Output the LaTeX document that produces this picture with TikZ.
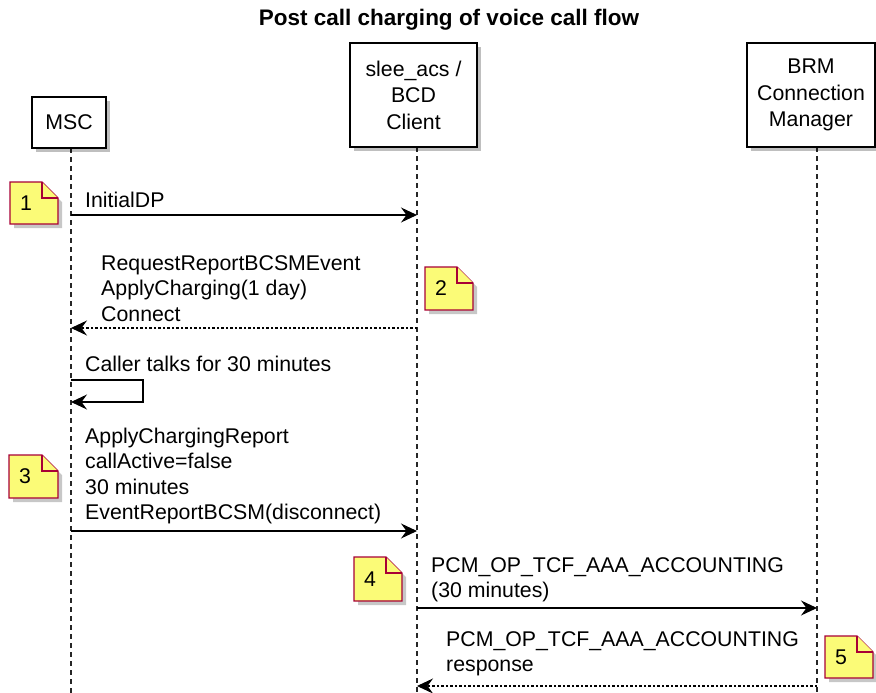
\documentclass[tikz,border=0pt]{standalone}
\usepackage{fontspec}
\setmainfont{Liberation Sans}
\usetikzlibrary{arrows.meta,shadows}
\definecolor{notefill}{HTML}{FBFB77}
\definecolor{noteline}{HTML}{A80036}
\newcommand\mynote[6]{%
  \fill[black,opacity=0.22] ({#2+4},{#3+4}) -- ({#4+4-16},{#3+4}) -- ({#4+4},{#3+4+16}) -- ({#4+4},{#5+4}) -- ({#2+4},{#5+4}) -- cycle;
  \filldraw[notestyle] (#2,#3) -- ({#4-16},#3) -- (#4,{#3+16}) -- (#4,#5) -- (#2,#5) -- cycle;
  \draw[notestyle] ({#4-16},#3) -- ({#4-16},{#3+16}) -- (#4,{#3+16});
  \node[anchor=west] (#1) at ({#2+10},{(#3+#5)/2}) {#6};
}
\begin{document}
\begin{tikzpicture}[x=1pt,y=-1pt,
  every node/.style={font=\fontsize{21.3}{25.5}\selectfont, inner sep=0pt},
  part/.style={draw=black, line width=1.6pt, fill=white, align=center,
    font=\fontsize{21.3}{26.5}\selectfont,
    drop shadow={shadow xshift=4pt, shadow yshift=-4pt, fill=black, opacity=0.25}},
  life/.style={dash pattern=on 5pt off 4pt, line width=1.3pt, black!85},
  msg/.style={line width=1.1pt, -{Stealth[length=16pt,width=15pt,inset=5.5pt]}},
  ret/.style={msg, dash pattern=on 2.5pt off 2pt},
  lbl/.style={anchor=west, align=left},
  notestyle/.style={draw=noteline, fill=notefill, line width=1.3pt, line join=miter},
]
\useasboundingbox (0,0) rectangle (876,693);

\node[font=\bfseries\fontsize{22.5}{27}\selectfont] (title) at (449,20) {Post call charging of voice call flow};

% lifelines
\coordinate (mscTop) at (71,148);  \coordinate (mscBot) at (71,693);
\coordinate (acsTop) at (417,147); \coordinate (acsBot) at (417,693);
\coordinate (brmTop) at (817,147); \coordinate (brmBot) at (817,693);
\draw[life] (mscTop) -- (mscBot);
\draw[life] (acsTop) -- (acsBot);
\draw[life] (brmTop) -- (brmBot);

% participants
\node[part, minimum width=74pt, minimum height=51pt] (msc) at (69,122.5) {MSC};
\node[part, minimum width=127pt, minimum height=104pt] (acs) at (413.5,95) {slee\_acs /\\BCD\\Client};
\node[part, minimum width=128pt, minimum height=104pt] (brm) at (811,95) {BRM\\Connection\\Manager};

% message 1
\coordinate (m1a) at (71,215); \coordinate (m1b) at (417,215);
\draw[msg] (m1a) -- (m1b);
\node[lbl] (l1) at (85,200) {InitialDP};

% message 2
\coordinate (m2a) at (417,328); \coordinate (m2b) at (71,328);
\draw[ret] (m2a) -- (m2b);
\node[lbl] (l2) at (101,288.5) {RequestReportBCSMEvent\\ApplyCharging(1 day)\\Connect};

% self message
\coordinate (s1) at (71,380); \coordinate (s2) at (143,380);
\coordinate (s3) at (143,402); \coordinate (s4) at (71,402);
\draw[msg] (s1) -- (s2) -- (s3) -- (s4);
\node[lbl] (ls) at (85,364) {Caller talks for 30 minutes};

% message 3
\coordinate (m3a) at (71,531); \coordinate (m3b) at (417,531);
\draw[msg] (m3a) -- (m3b);
\node[lbl] (l3) at (85,476) {ApplyChargingReport\\callActive=false\\30 minutes\\EventReportBCSM(disconnect)};

% message 4
\coordinate (m4a) at (417,608); \coordinate (m4b) at (817,608);
\draw[msg] (m4a) -- (m4b);
\node[lbl] (l4) at (431,580) {PCM\_OP\_TCF\_AAA\_ACCOUNTING\\(30 minutes)};

% message 5
\coordinate (m5a) at (817,686); \coordinate (m5b) at (417,686);
\draw[ret] (m5a) -- (m5b);
\node[lbl] (l5) at (446,654) {PCM\_OP\_TCF\_AAA\_ACCOUNTING\\response};

% notes
\mynote{n1}{10}{182}{58}{224}{1}
\mynote{n2}{425}{267}{473}{310}{2}
\mynote{n3}{9}{455}{58}{498}{3}
\mynote{n4}{354}{557}{402}{601}{4}
\mynote{n5}{825}{636}{873}{678}{5}
\end{tikzpicture}
\end{document}
